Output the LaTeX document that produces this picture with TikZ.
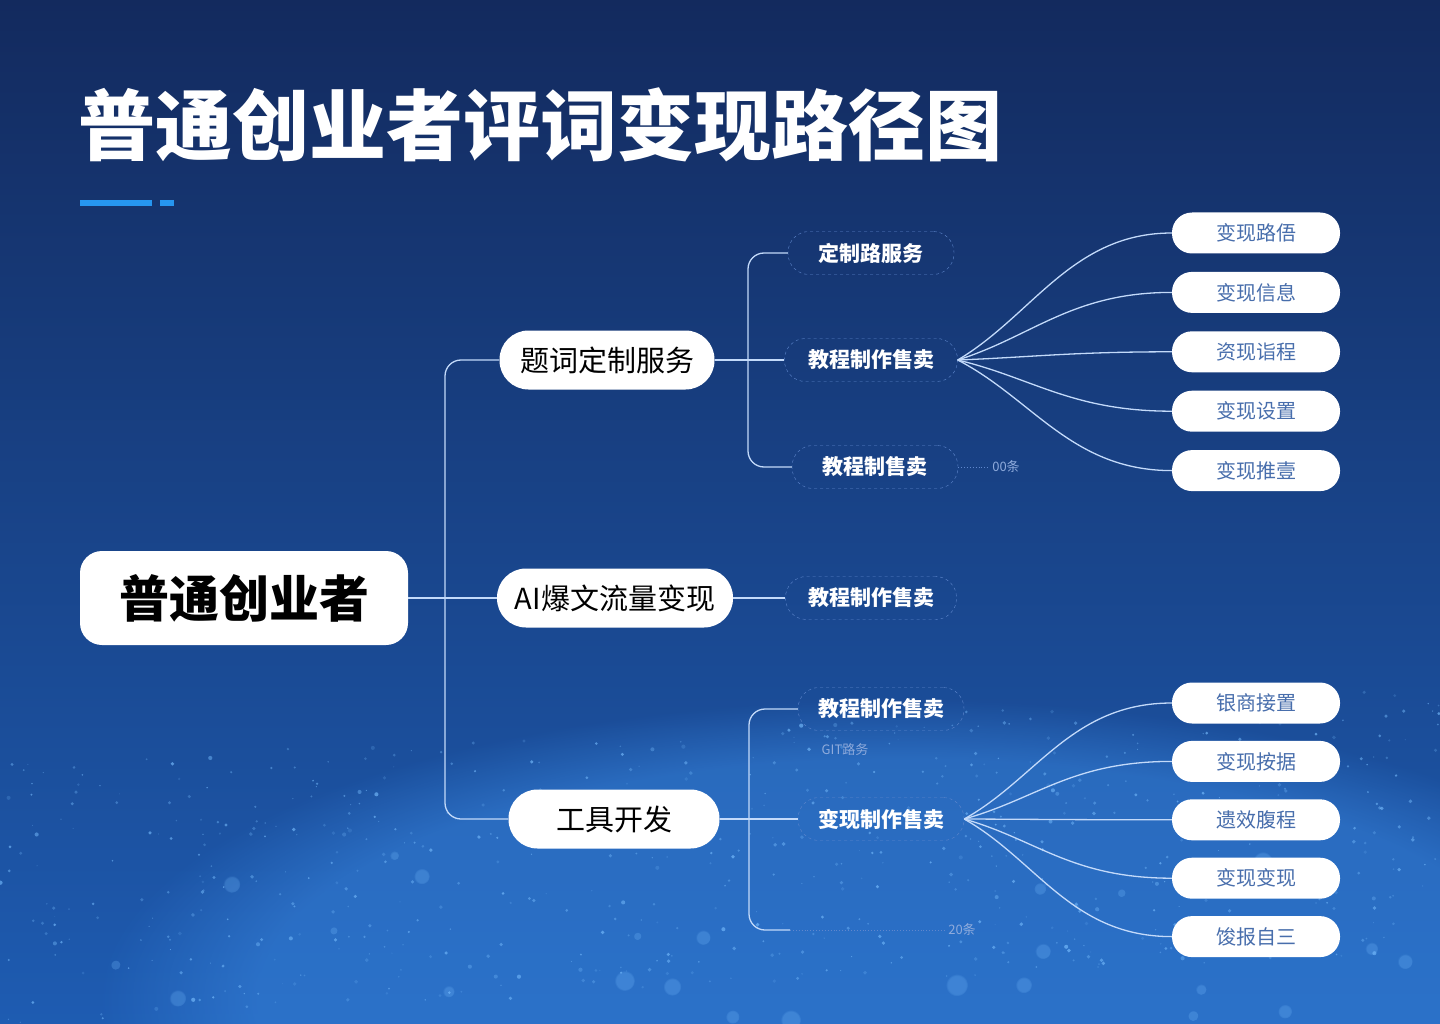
\documentclass[tikz,border=0pt]{standalone}
\usepackage{fontspec}
\setmainfont{Noto Sans CJK SC}
\usetikzlibrary{positioning, calc, fadings}
\definecolor{bgtop}{RGB}{19, 42, 94}
\definecolor{bgbot}{RGB}{30, 92, 178}
\definecolor{glowblue}{RGB}{60, 140, 230}
\definecolor{lineblue}{RGB}{195, 218, 250}
\definecolor{leaftext}{RGB}{72, 110, 172}
\definecolor{accent}{RGB}{38, 150, 240}
\definecolor{dashblue}{RGB}{95, 135, 205}
\definecolor{dotblue}{RGB}{120, 190, 255}
\tikzset{
    rootbox/.style={fill=white, rounded corners=22pt, minimum width=328pt, minimum height=94pt, font=\fontsize{50}{50}\selectfont\bfseries, text=black},
    mainbox/.style={fill=white, rounded corners=29pt, minimum height=59pt, font=\fontsize{29}{29}\selectfont, text=black},
    subbox/.style={draw=dashblue, dashed, rounded corners=21pt, minimum width=166pt, minimum height=43pt, font=\fontsize{21}{21}\selectfont\bfseries, text=white},
    leafbox/.style={fill=white, rounded corners=20pt, minimum width=168pt, minimum height=41pt, font=\fontsize{20}{20}\selectfont, text=leaftext},
    linkline/.style={draw=lineblue, line width=1.3pt, rounded corners=16pt},
    fanline/.style={draw=lineblue, line width=1.3pt},
    noteline/.style={draw=dashblue, dotted, line width=0.9pt},
    notetext/.style={font=\fontsize{13}{13}\selectfont, text=dashblue!70!white},
}

\begin{document}
\begin{tikzpicture}[x=1pt, y=-1pt]
    \useasboundingbox (0,0) rectangle (1440,1024);
    % background
    \shade[top color=bgtop, bottom color=bgbot] (0,0) rectangle (1440,1024);
    \fill[glowblue, opacity=0.45, path fading=circle with fuzzy edge 20 percent] (900,1000) ellipse [x radius=800, y radius=300];
    \pgfmathsetseed{17}
    \foreach \i in {1,...,650}{
        \pgfmathsetmacro{\px}{rnd*1440}
        \pgfmathsetmacro{\py}{760+rnd*264-0.05*\px}
        \pgfmathsetmacro{\pr}{0.5+rnd*1.6}
        \pgfmathsetmacro{\po}{0.15+rnd*0.5}
        \fill[dotblue, opacity=\po] (\px,\py) circle[radius=\pr];
    }
    \foreach \i in {1,...,25}{
        \pgfmathsetmacro{\px}{rnd*1440}
        \pgfmathsetmacro{\py}{850+rnd*170}
        \pgfmathsetmacro{\pr}{4+rnd*8}
        \fill[dotblue, opacity=0.25, path fading=circle with fuzzy edge 20 percent] (\px,\py) circle[radius=\pr];
    }

    % title
    \node[anchor=west, inner sep=0, text=white, font=\fontsize{77}{77}\selectfont\bfseries] (title) at (78,125) {普通创业者评词变现路径图};
    \fill[accent] (80,200) rectangle (152,206);
    \fill[accent] (160,200) rectangle (174,206);

    % root and main branches
    \node[rootbox] (root) at (244,598) {普通创业者};
    \node[mainbox, minimum width=215pt] (ts) at (607,360) {题词定制服务};
    \node[mainbox, minimum width=236pt] (ai) at (615,598) {AI爆文流量变现};
    \node[mainbox, minimum width=211pt] (tool) at (614,819) {工具开发};

    % second level
    \node[subbox] (s1) at (871,253) {定制路服务};
    \node[subbox, minimum width=173pt] (s2) at (871,360) {教程制作售卖};
    \node[subbox] (s3) at (875,467) {教程制售卖};
    \node[subbox, minimum width=171pt] (s4) at (871,598) {教程制作售卖};
    \node[subbox] (s5) at (881,709) {教程制作售卖};
    \node[subbox] (s6) at (881,819) {变现制作售卖};

    % notes
    \node[notetext] (n00) at (1006,467) {00条};
    \node[notetext] (git) at (845,750) {GIT路务};
    \node[notetext] (n20) at (962,930) {20条};

    % leaves
    \node[leafbox] (a1) at (1256,233) {变现路俉};
    \node[leafbox, below=18pt of a1] (a2) {变现信息};
    \node[leafbox, below=18pt of a2] (a3) {资现诣程};
    \node[leafbox, below=18pt of a3] (a4) {变现设置};
    \node[leafbox, below=18pt of a4] (a5) {变现推壹};
    \node[leafbox] (b1) at (1256,703) {银商接置};
    \node[leafbox, below=17pt of b1] (b2) {变现按据};
    \node[leafbox, below=17pt of b2] (b3) {遗效腹程};
    \node[leafbox, below=17pt of b3] (b4) {变现变现};
    \node[leafbox, below=17pt of b4] (b5) {馂报自三};

    % connectors
    \coordinate (trunk1) at (445,598);
    \coordinate (trunk2) at (748,360);
    \coordinate (trunk3) at (749,819);
    \coordinate (end20) at (790,930);
    \draw[linkline] (root.east) -- (ai.west);
    \draw[linkline] (ts.west) -| (trunk1) |- (tool.west);
    \draw[linkline] (s1.west) -| (trunk2) |- (s3.west);
    \draw[linkline] (ts.east) -- (s2.west);
    \draw[linkline] (ai.east) -- (s4.west);
    \draw[linkline] (s5.west) -| (trunk3) |- (end20);
    \draw[linkline] (tool.east) -- (s6.west);
    \draw[noteline] (s3.east) -- (n00.west);
    \draw[noteline] (end20) -- (n20.west);

    \foreach \l in {a1,a2,a3,a4,a5}
        \draw[fanline] (s2.east) .. controls ($(s2.east)!0.35!(\l.west)$) and ($(\l.west)+(-100,0)$) .. (\l.west);
    \foreach \l in {b1,b2,b3,b4,b5}
        \draw[fanline] (s6.east) .. controls ($(s6.east)!0.35!(\l.west)$) and ($(\l.west)+(-100,0)$) .. (\l.west);
\end{tikzpicture}
\end{document}
